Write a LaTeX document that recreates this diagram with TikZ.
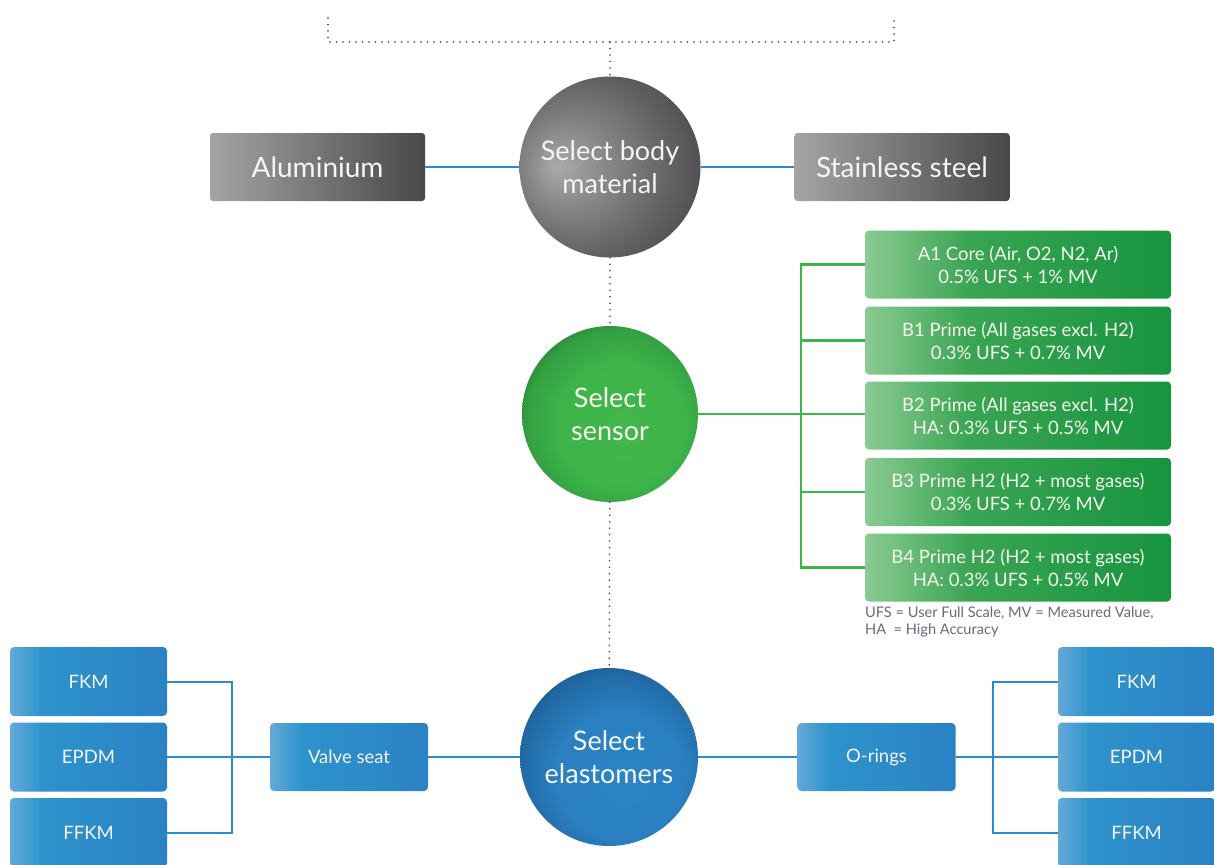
\documentclass[tikz,border=0pt]{standalone}
\usepackage{fontspec}
\setsansfont{Lato}
\usetikzlibrary{positioning}

\definecolor{metalL}{HTML}{A4A4A6}
\definecolor{metalR}{HTML}{48484A}
\definecolor{gasL}{HTML}{8ACB92}
\definecolor{gasM}{HTML}{3AA552}
\definecolor{gasR}{HTML}{17943F}
\definecolor{sealL}{HTML}{64A9D8}
\definecolor{sealM}{HTML}{2E93CC}
\definecolor{sealR}{HTML}{2A82C4}
\definecolor{wireblue}{HTML}{2A8CCF}
\definecolor{wiregreen}{HTML}{3CB54A}
\definecolor{dotgray}{HTML}{3A3A3A}
\definecolor{notegray}{HTML}{6C687C}

% shadings for the boxes
\pgfdeclarehorizontalshading{metalfade}{100bp}{color(0bp)=(metalL); color(25bp)=(metalL); color(75bp)=(metalR); color(100bp)=(metalR)}
\pgfdeclarehorizontalshading{gasfade}{100bp}{color(0bp)=(gasL); color(25bp)=(gasL); color(42bp)=(gasM); color(75bp)=(gasR); color(100bp)=(gasR)}
\pgfdeclarehorizontalshading{sealfade}{100bp}{color(0bp)=(sealL); color(25bp)=(sealL); color(35bp)=(sealM); color(75bp)=(sealR); color(100bp)=(sealR)}

% shadings for the three spheres
\pgfdeclareradialshading{bodyball}{\pgfpoint{-15bp}{0bp}}{color(0bp)=(rgb,255:red,170;green,170;blue,172); color(10bp)=(rgb,255:red,138;green,138;blue,140); color(25bp)=(rgb,255:red,96;green,96;blue,98); color(40bp)=(rgb,255:red,60;green,60;blue,62); color(50bp)=(rgb,255:red,52;green,52;blue,54)}
\pgfdeclareradialshading{sensorball}{\pgfpoint{5bp}{-5bp}}{color(0bp)=(rgb,255:red,66;green,183;blue,74); color(18bp)=(rgb,255:red,61;green,180;blue,73); color(26bp)=(rgb,255:red,52;green,160;blue,66); color(32bp)=(rgb,255:red,35;green,118;blue,46); color(50bp)=(rgb,255:red,35;green,118;blue,46)}
\pgfdeclareradialshading{sealball}{\pgfpoint{5bp}{-8bp}}{color(0bp)=(rgb,255:red,44;green,132;blue,196); color(18bp)=(rgb,255:red,42;green,128;blue,192); color(27bp)=(rgb,255:red,34;green,106;blue,166); color(34bp)=(rgb,255:red,22;green,78;blue,124); color(50bp)=(rgb,255:red,22;green,78;blue,124)}

\begin{document}
\begin{tikzpicture}[
    x=1pt, y=-1pt,
    every node/.style={font=\sffamily, text={rgb,255:red,246;green,246;blue,240}},
    hub/.style={circle, align=center, inner sep=0pt, font=\sffamily\fontsize{27}{33}\selectfont},
    metalbox/.style={rounded corners=3pt, shading=metalfade, minimum width=215pt, minimum height=68pt, font=\sffamily\fontsize{28}{30}\selectfont},
    gasbox/.style={rounded corners=4pt, shading=gasfade, minimum width=306pt, minimum height=68pt, align=center, font=\sffamily\fontsize{18.5}{23}\selectfont},
    sealbox/.style={rounded corners=4pt, shading=sealfade, minimum width=158pt, minimum height=68pt, font=\sffamily\fontsize{18.5}{20}\selectfont},
    note/.style={align=left, text=notegray, inner sep=0pt, font=\sffamily\fontsize{14.6}{17}\selectfont},
    trail/.style={draw=dotgray, line width=1.7pt, dash pattern=on 0pt off 6.5pt, line cap=round},
    metalline/.style={draw=wireblue, line width=1.8pt},
    gasline/.style={draw=wiregreen, line width=2.4pt},
    sealline/.style={draw=wireblue, line width=2pt}
]

\clip (0,0) rectangle (1214,864);
\fill[white] (0,0) rectangle (1214,864);

% Body material
\node[hub, shading=bodyball, minimum size=181pt] (body) at (610,167) {Select body\\material};
\node[metalbox] (alu) at (317.5,167) {Aluminium};
\node[metalbox] (steel) at (902,167) {Stainless steel};

% Sensor
\node[hub, shading=sensorball, minimum size=176pt] (sensor) at (610,414) {Select\\sensor};
\node[gasbox] (a1) at (1018,264.5) {A1 Core (Air, O2, N2, Ar)\\0.5\% UFS + 1\% MV};
\node[gasbox] (b1) at (1018,340.5) {B1 Prime (All gases excl. H2)\\0.3\% UFS + 0.7\% MV};
\node[gasbox] (b2) at (1018,415.5) {B2 Prime (All gases excl. H2)\\HA: 0.3\% UFS + 0.5\% MV};
\node[gasbox] (b3) at (1018,492) {B3 Prime H2 (H2 + most gases)\\0.3\% UFS + 0.7\% MV};
\node[gasbox] (b4) at (1018,567.5) {B4 Prime H2 (H2 + most gases)\\HA: 0.3\% UFS + 0.5\% MV};
\node[note, anchor=north west] (legend) at (865,607) {UFS = User Full Scale, MV = Measured Value,\\HA\ \ = High Accuracy};

% Elastomers
\node[hub, shading=sealball, minimum size=178pt] (seals) at (609,757) {Select\\elastomers};
\node[sealbox] (vseat) at (349,757) {Valve seat};
\node[sealbox] (oring) at (876.5,757) {O-rings};
\node[sealbox, minimum width=157pt, minimum height=69pt] (lfkm) at (88.5,681.5) {FKM};
\node[sealbox, minimum width=157pt, minimum height=69pt] (lepdm) at (88.5,757) {EPDM};
\node[sealbox, minimum width=157pt, minimum height=69pt] (lffkm) at (88.5,832.5) {FFKM};
\node[sealbox, minimum width=157pt, minimum height=69pt] (rfkm) at (1136.5,681.5) {FKM};
\node[sealbox, minimum width=157pt, minimum height=69pt] (repdm) at (1136.5,757) {EPDM};
\node[sealbox, minimum width=157pt, minimum height=69pt] (rffkm) at (1136.5,832.5) {FFKM};

% Dotted spine
\coordinate (capl) at (328,18);
\coordinate (capr) at (894,18);
\coordinate (capm) at (610,42);
\draw[trail] (capl) |- (capr |- capm) -- (capr);
\draw[trail] (capm) -- (body);
\draw[trail] (body) -- (sensor);
\draw[trail] (sensor) -- (seals);

% Connectors
\draw[metalline] (alu) -- (body);
\draw[metalline] (body) -- (steel);

\coordinate (gbus) at (801,414);
\draw[gasline] (sensor) -- (gbus);
\foreach \g in {a1,b1,b3,b4}
    \draw[gasline] (\g.west) -| (gbus);
\draw[gasline] (gbus) -- (b2.west |- gbus);

\coordinate (lbus) at (232,757);
\coordinate (rbus) at (993,757);
\draw[sealline] (lepdm) -- (vseat);
\draw[sealline] (lfkm.east) -| (lbus);
\draw[sealline] (lffkm.east) -| (lbus);
\draw[sealline] (vseat) -- (seals);
\draw[sealline] (seals) -- (oring);
\draw[sealline] (oring) -- (repdm);
\draw[sealline] (rfkm.west) -| (rbus);
\draw[sealline] (rffkm.west) -| (rbus);

\end{tikzpicture}
\end{document}
